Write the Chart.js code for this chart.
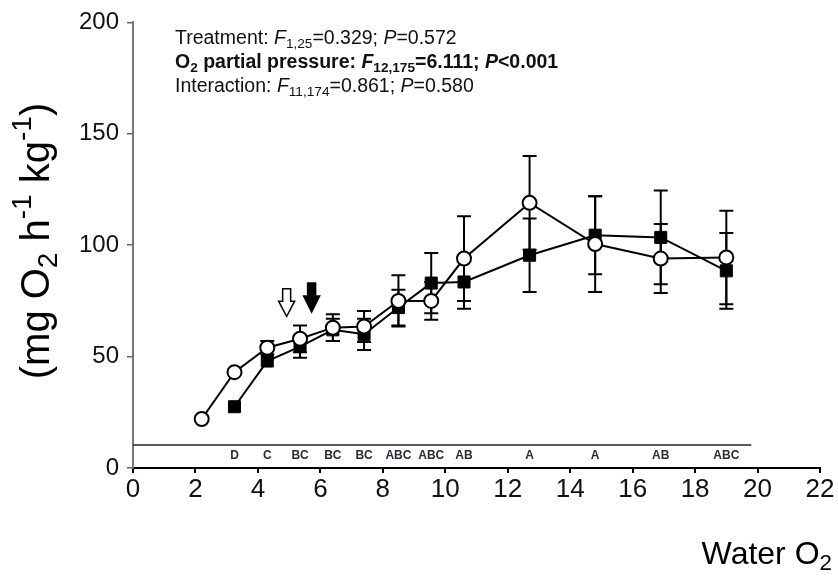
<!DOCTYPE html>
<html>
<head>
<meta charset="utf-8">
<script src="https://cdn.jsdelivr.net/npm/chart.js@4.4.1/dist/chart.umd.min.js"></script>
<style>
  html, body { margin: 0; padding: 0; background: #fff; }
  #wrap { width: 838px; height: 583px; position: relative; }
</style>
</head>
<body>
<div id="wrap"><canvas id="c" width="838" height="583"></canvas></div>
<script>
// open circles
const circleX = [2.2, 3.25, 4.3, 5.35, 6.4, 7.4, 8.5, 9.55, 10.6, 12.7, 14.8, 16.9, 19.0];
const circleY = [22, 43, 54, 58, 63, 63.5, 75, 75, 94, 119, 100.5, 94, 94.5];
const circleErr = [0, 0, 3, 6, 6, 7, 11.5, 8.5, 19, 21, 21.5, 15.5, 21];

// filled squares
const squareX = [3.25, 4.3, 5.35, 6.4, 7.4, 8.5, 9.55, 10.6, 12.7, 14.8, 16.9, 19.0];
const squareY = [27.5, 48, 54.5, 62, 60, 72, 83, 83.5, 95.5, 104.5, 103.5, 88.5];
const squareErr = [0, 0, 5, 5, 7, 8, 13.5, 12, 16.5, 17.5, 21, 17];

// post-hoc letters under each O2 level
const groupLetters = ['D', 'C', 'BC', 'BC', 'BC', 'ABC', 'ABC', 'AB', 'A', 'A', 'AB', 'ABC'];
const letterY = 5.4;
const baselineLevel = 10.3;
const baselineEnd = 19.8;

// arrows (x, tip y, top y)
const arrowOpen = [4.92, 68, 80.5];
const arrowFilled = [5.72, 70, 83];

const xTicks = [0, 2, 4, 6, 8, 10, 12, 14, 16, 18, 20, 22];
const yTicks = [0, 50, 100, 150, 200];

const FONT = '"Liberation Sans", Arial, sans-serif';

const statLines = [
  { bold: false, parts: [['Treatment: '], ['F', 'i'], ['1,25', 'sub'], ['=0.329; '], ['P', 'i'], ['=0.572']] },
  { bold: true, parts: [['O'], ['2', 'sub'], [' partial pressure: '], ['F', 'i'], ['12,175', 'sub'], ['=6.111; '], ['P', 'i'], ['<0.001']] },
  { bold: false, parts: [['Interaction: '], ['F', 'i'], ['11,174', 'sub'], ['=0.861; '], ['P', 'i'], ['=0.580']] }
];
const yTitleParts = [['(mg O'], ['2', 'sub'], [' h'], ['-1', 'sup'], [' kg'], ['-1', 'sup'], [')']];
const xTitleParts = [['Water O'], ['2', 'sub']];

function toPts(xs, ys) { return xs.map((v, i) => ({ x: v, y: ys[i] })); }

// draws text made of pieces with sub/superscripts, returns width
function richText(ctx, parts, x, y, size, bold, measureOnly) {
  let cx = x;
  parts.forEach(([t, kind]) => {
    const small = kind === 'sub' || kind === 'sup';
    const s = small ? size * 0.7 : size;
    ctx.font = (kind === 'i' ? 'italic ' : '') + (bold ? 'bold ' : '') + s + 'px ' + FONT;
    let dy = 0;
    if (kind === 'sub') dy = size * 0.28;
    if (kind === 'sup') dy = -size * 0.38;
    if (!measureOnly) ctx.fillText(t, cx, y + dy);
    cx += ctx.measureText(t).width;
  });
  return cx - x;
}

const extras = {
  id: 'extras',
  beforeDatasetsDraw(chart) {
    const { ctx, scales: { x, y } } = chart;
    ctx.save();
    ctx.strokeStyle = '#000';
    ctx.lineWidth = 2;
    const bars = (xs, ys, es) => xs.forEach((xv, i) => {
      if (!es[i]) return;
      const px = x.getPixelForValue(xv);
      const t = y.getPixelForValue(ys[i] + es[i]);
      const b = y.getPixelForValue(ys[i] - es[i]);
      ctx.beginPath();
      ctx.moveTo(px, t); ctx.lineTo(px, b);
      ctx.moveTo(px - 7, t); ctx.lineTo(px + 7, t);
      ctx.moveTo(px - 7, b); ctx.lineTo(px + 7, b);
      ctx.stroke();
    });
    bars(squareX, squareY, squareErr);
    bars(circleX, circleY, circleErr);
    ctx.restore();
  },
  afterDraw(chart) {
    const { ctx, scales: { x, y } } = chart;
    ctx.save();
    ctx.fillStyle = '#111';
    ctx.textBaseline = 'middle';
    ctx.textAlign = 'left';

    // stats block
    statLines.forEach((ln, i) => richText(ctx, ln.parts, 175, 39 + i * 24, 19.5, ln.bold));

    // group letters
    ctx.font = 'bold 12px "Liberation Sans Narrow", ' + FONT;
    ctx.fillStyle = '#2a2a3a';
    ctx.textAlign = 'center';
    groupLetters.forEach((l, i) => ctx.fillText(l, x.getPixelForValue(squareX[i]), y.getPixelForValue(letterY)));

    // arrows
    const arrow = (a, filled) => {
      const px = x.getPixelForValue(a[0]);
      const tip = y.getPixelForValue(a[1]);
      const top = y.getPixelForValue(a[2]);
      const mid = tip - (tip - top) * 0.55;
      ctx.beginPath();
      ctx.moveTo(px - 4, top);
      ctx.lineTo(px + 4, top);
      ctx.lineTo(px + 4, mid);
      ctx.lineTo(px + 8, mid);
      ctx.lineTo(px, tip);
      ctx.lineTo(px - 8, mid);
      ctx.lineTo(px - 4, mid);
      ctx.closePath();
      ctx.lineWidth = 1.5;
      ctx.strokeStyle = '#000';
      ctx.fillStyle = filled ? '#000' : '#fff';
      ctx.fill();
      ctx.stroke();
    };
    arrow(arrowOpen, false);
    arrow(arrowFilled, true);

    // axis titles
    ctx.fillStyle = '#000';
    ctx.textAlign = 'left';
    const xw = richText(ctx, xTitleParts, 0, 0, 32, false, true);
    richText(ctx, xTitleParts, 832 - xw, 555, 32, false);

    const yw = richText(ctx, yTitleParts, 0, 0, 40, false, true);
    ctx.translate(38, 241);
    ctx.rotate(-Math.PI / 2);
    richText(ctx, yTitleParts, -yw / 2, 0, 40, false);
    ctx.restore();
  }
};

new Chart(document.getElementById('c'), {
  type: 'line',
  data: {
    datasets: [
      {
        label: 'Open',
        data: toPts(circleX, circleY),
        borderColor: '#000',
        borderWidth: 2,
        pointStyle: 'circle',
        pointRadius: 7,
        pointBackgroundColor: '#fff',
        pointBorderColor: '#000',
        pointBorderWidth: 2,
        tension: 0
      },
      {
        label: 'Filled',
        data: toPts(squareX, squareY),
        borderColor: '#000',
        borderWidth: 2,
        pointStyle: 'rect',
        pointRadius: 8.5,
        pointBackgroundColor: '#000',
        pointBorderColor: '#000',
        pointBorderWidth: 1,
        tension: 0
      },
      {
        label: 'base',
        data: [{ x: 0, y: baselineLevel }, { x: baselineEnd, y: baselineLevel }],
        borderColor: '#222',
        borderWidth: 1.5,
        pointRadius: 0
      }
    ]
  },
  options: {
    responsive: false,
    animation: false,
    events: [],
    layout: { padding: { left: 0, right: 18, top: 20, bottom: 0 } },
    plugins: { legend: { display: false }, tooltip: { enabled: false } },
    scales: {
      x: {
        type: 'linear',
        min: 0,
        max: 22,
        afterFit(s) { s.height = 115; },
        afterBuildTicks(s) { s.ticks = xTicks.map(v => ({ value: v })); },
        grid: { drawOnChartArea: false, drawTicks: true, tickLength: 5, color: '#000', lineWidth: 2 },
        border: { color: '#000', width: 2 },
        ticks: {
          color: '#111',
          padding: 1,
          maxRotation: 0,
          font: { family: '"Liberation Sans Narrow", "Liberation Sans", Arial, sans-serif', size: 26 }
        }
      },
      y: {
        min: 0,
        max: 200,
        afterFit(s) { s.width = 133; },
        afterBuildTicks(s) { s.ticks = yTicks.map(v => ({ value: v })); },
        grid: { drawOnChartArea: false, drawTicks: true, tickLength: 6, color: '#666', lineWidth: 1.5 },
        border: { color: '#777', width: 2 },
        ticks: {
          color: '#111',
          padding: 8,
          font: { family: FONT, size: 24 }
        }
      }
    }
  },
  plugins: [extras]
});
</script>
</body>
</html>
